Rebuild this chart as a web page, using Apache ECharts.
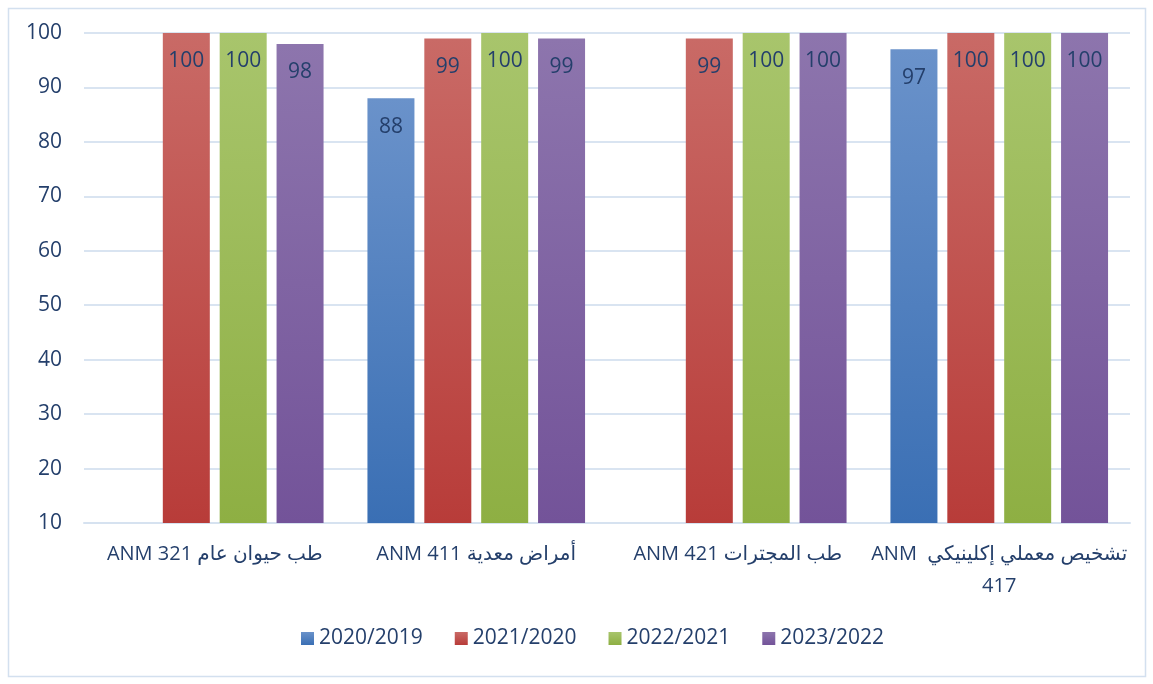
<!DOCTYPE html>
<html>
<head>
<meta charset="utf-8">
<script src="https://cdn.jsdelivr.net/npm/echarts@6/dist/echarts.min.js"></script>
<style>
  body { margin: 0; background: #fff; }
  #chart { width: 1153px; height: 684px; }
</style>
</head>
<body>
<div id="chart"></div>
<script>
// data
const categories = [
  'طب حيوان عام ANM 321',
  'أمراض معدية ANM 411',
  'طب المجترات ANM 421',
  'تشخيص معملي إكلينيكي  ANM\n417'
];
const years = ['2020/2019', '2021/2020', '2022/2021', '2023/2022'];
const s2019 = [null, 88, null, 97];
const s2020 = [100, 99, 99, 100];
const s2021 = [100, 100, 100, 100];
const s2022 = [98, 99, 100, 100];
const yTicks = { min: 10, max: 100, step: 10 };

const textColor = '#243f6b';
const font = 'Open Sans, DejaVu Sans';
const colors = [
  ['#6a92ca', '#3a6fb4'],
  ['#c96a66', '#b83c39'],
  ['#a8c56c', '#8eaf43'],
  ['#8d75ad', '#735399']
];

const grad = c => new echarts.graphic.LinearGradient(0, 0, 0, 1, [
  { offset: 0, color: c[0] },
  { offset: 1, color: c[1] }
]);

// wrap each line in an RTL embedding so the Arabic reads the right way
const rtl = s => s.split('\n').map(l => '\u202B' + l + '\u202C').join('\n');

const allSeries = [s2019, s2020, s2021, s2022].map((d, i) => ({
  name: years[i],
  type: 'bar',
  data: d,
  barWidth: 47,
  barGap: '21%',
  itemStyle: { color: grad(colors[i]) },
  label: {
    show: true,
    position: 'insideTop',
    distance: 18,
    color: textColor,
    fontSize: 21,
    fontFamily: font
  }
}));

var myChart = echarts.init(document.getElementById('chart'));
myChart.setOption({
  animation: false,
  graphic: [{
    type: 'rect',
    shape: { x: 8.5, y: 8.5, width: 1137, height: 668 },
    style: { fill: 'none', stroke: '#d3e0ef', lineWidth: 1.5 },
    silent: true
  }],
  grid: { left: 84, right: 23, top: 33, bottom: 161 },
  legend: {
    data: years.map((y, i) => ({ name: y, itemStyle: { color: grad(colors[i]) } })),
    top: 623,
    left: 296,
    icon: 'rect',
    itemWidth: 13,
    itemHeight: 13,
    itemGap: 32,
    textStyle: { color: textColor, fontSize: 21, fontFamily: font }
  },
  xAxis: {
    type: 'category',
    data: categories,
    axisLine: { lineStyle: { color: '#d6e2f0', width: 2 } },
    axisTick: { show: false },
    axisLabel: {
      color: textColor,
      fontSize: 20,
      lineHeight: 32,
      margin: 15,
      interval: 0,
      fontFamily: font,
      formatter: v => rtl(v)
    }
  },
  yAxis: {
    type: 'value',
    min: yTicks.min,
    max: yTicks.max,
    interval: yTicks.step,
    axisLine: { show: false },
    axisTick: { show: false },
    splitLine: { lineStyle: { color: '#d9e4f1', width: 2 } },
    axisLabel: { color: textColor, fontSize: 21, margin: 22, fontFamily: font }
  },
  series: allSeries
});
</script>
</body>
</html>
